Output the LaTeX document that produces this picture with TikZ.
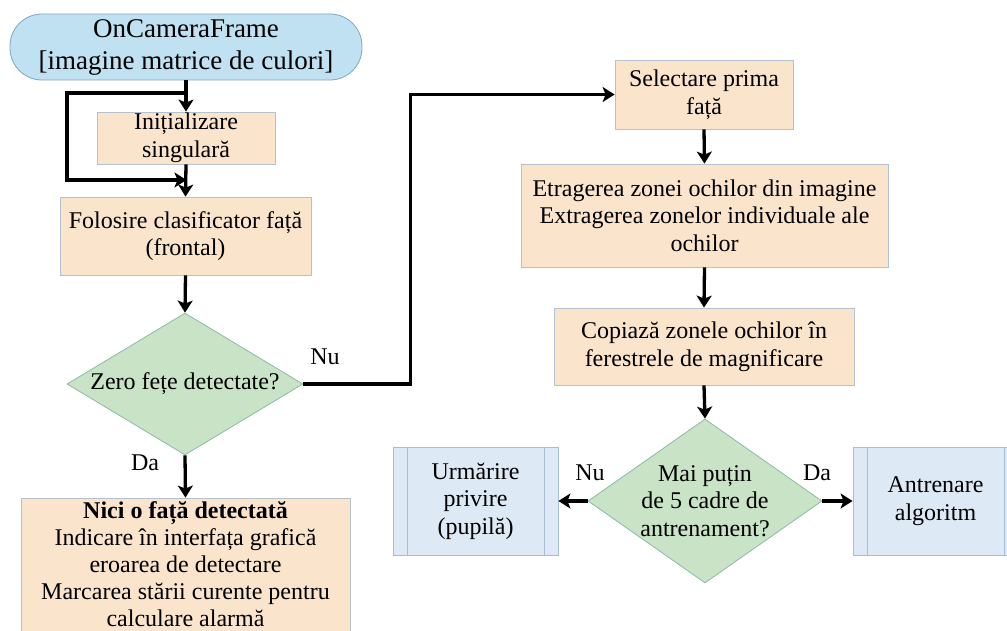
\documentclass[tikz,border=0pt]{standalone}
\usepackage{fontspec}
\setmainfont{Liberation Serif}
\usetikzlibrary{shapes.geometric,arrows.meta}

\definecolor{startfill}{HTML}{BFE1F1}
\definecolor{startdraw}{HTML}{7EA6C4}
\definecolor{procfill}{HTML}{FBE4CC}
\definecolor{procdraw}{HTML}{B4C2D0}
\definecolor{decfill}{HTML}{C8E3C5}
\definecolor{decdraw}{HTML}{8DB9A8}
\definecolor{predfill}{HTML}{DEE9F6}
\definecolor{preddraw}{HTML}{A7BDD6}

\begin{document}
\begin{tikzpicture}[x=1pt,y=-1pt,
  txt/.style={font=\fontsize{24}{27.5}\selectfont, align=center, inner sep=0pt},
  startbox/.style={draw=startdraw, fill=startfill, line width=0.8pt, rounded corners=32pt,
    minimum width=352pt, minimum height=66pt, inner sep=0pt, align=center,
    font=\fontsize{27}{32}\selectfont},
  procbox/.style={draw=procdraw, fill=procfill, line width=0.8pt, inner sep=0pt,
    txt},
  decbox/.style={diamond, draw=decdraw, fill=decfill, line width=0.8pt, inner sep=0pt, aspect=1.5},
  predbox/.style={draw=preddraw, fill=predfill, line width=0.8pt, inner sep=0pt, txt,
    minimum width=165pt, minimum height=108pt,
    path picture={
      \draw[preddraw, line width=0.8pt]
        ([xshift=14pt]path picture bounding box.north west) -- ([xshift=14pt]path picture bounding box.south west)
        ([xshift=-14pt]path picture bounding box.north east) -- ([xshift=-14pt]path picture bounding box.south east);
    }},
  arr/.style={line width=3.3pt, -{Stealth[length=12pt, width=15pt, inset=3pt]}}
]
\clip (0,0) rectangle (1007,631);
\fill[white] (0,0) rectangle (1007,631);

% left column
\node[startbox] (start) at (186,47) {OnCameraFrame\\{}[imagine matrice de culori]};
\node[procbox, minimum width=178pt, minimum height=52pt] (init) at (186,138) {Inițializare\\singulară};
\node[procbox, minimum width=251pt, minimum height=78pt] (fol) at (185.5,236) {Folosire clasificator față\\(frontal)};
\node[decbox, minimum width=236pt, minimum height=142pt,
      label={[txt]center:Zero fețe detectate?}] (d1) at (185,384) {};
\node[procbox, minimum width=329pt, minimum height=170pt] (nici) at (185.5,583) {};
\node[txt, font=\fontsize{24}{27}\selectfont] (nicitext) at (185.5,564)
  {\textbf{Nici o față detectată}\\Indicare în interfața grafică\\eroarea de detectare\\Marcarea stării curente pentru\\calculare alarmă};

% right column
\node[procbox, minimum width=178pt, minimum height=69pt] (sel) at (704,94.5) {Selectare prima\\față};
\node[procbox, minimum width=367pt, minimum height=103pt] (etr) at (704.5,215.5) {Etragerea zonei ochilor din imagine\\Extragerea zonelor individuale ale\\ochilor};
\node[procbox, minimum width=300pt, minimum height=77pt] (cop) at (704,346.5) {Copiază zonele ochilor în\\ferestrele de magnificare};
\node[decbox, minimum width=234pt, minimum height=164pt,
      label={[txt]center:Mai puțin\\de 5 cadre de\\antrenament?}] (d2) at (705,501) {};
\node[predbox] (urm) at (475.5,501) {Urmărire\\privire\\(pupilă)};
\node[predbox] (ant) at (935.5,501) {Antrenare\\algoritm};

% branch labels
\node[txt] (nu1) at (325,357) {Nu};
\node[txt] (da1) at (145,463) {Da};
\node[txt] (nu2) at (590,473) {Nu};
\node[txt] (da2) at (817,473) {Da};

% connectors
\coordinate (split) at (185,93);
\coordinate (loopL) at (67,93);
\coordinate (join) at (185,180);
\draw[arr] (start.south) -- (init.north);
\draw[arr, shorten >=-1.5pt] (split) -- (loopL) |- (join);
\draw[arr] (init.south) -- (fol.north);
\draw[arr] (fol.south) -- (d1.north);
\draw[arr] (d1.east) -- ++(107,0) |- (sel.west);
\draw[arr] (d1.south) -- (nici.north);
\draw[arr] (sel.south) -- (etr.north);
\draw[arr] (etr.south) -- (cop.north);
\draw[arr] (cop.south) -- (d2.north);
\draw[arr] (d2.west) -- (urm.east);
\draw[arr] (d2.east) -- (ant.west);
\end{tikzpicture}
\end{document}
